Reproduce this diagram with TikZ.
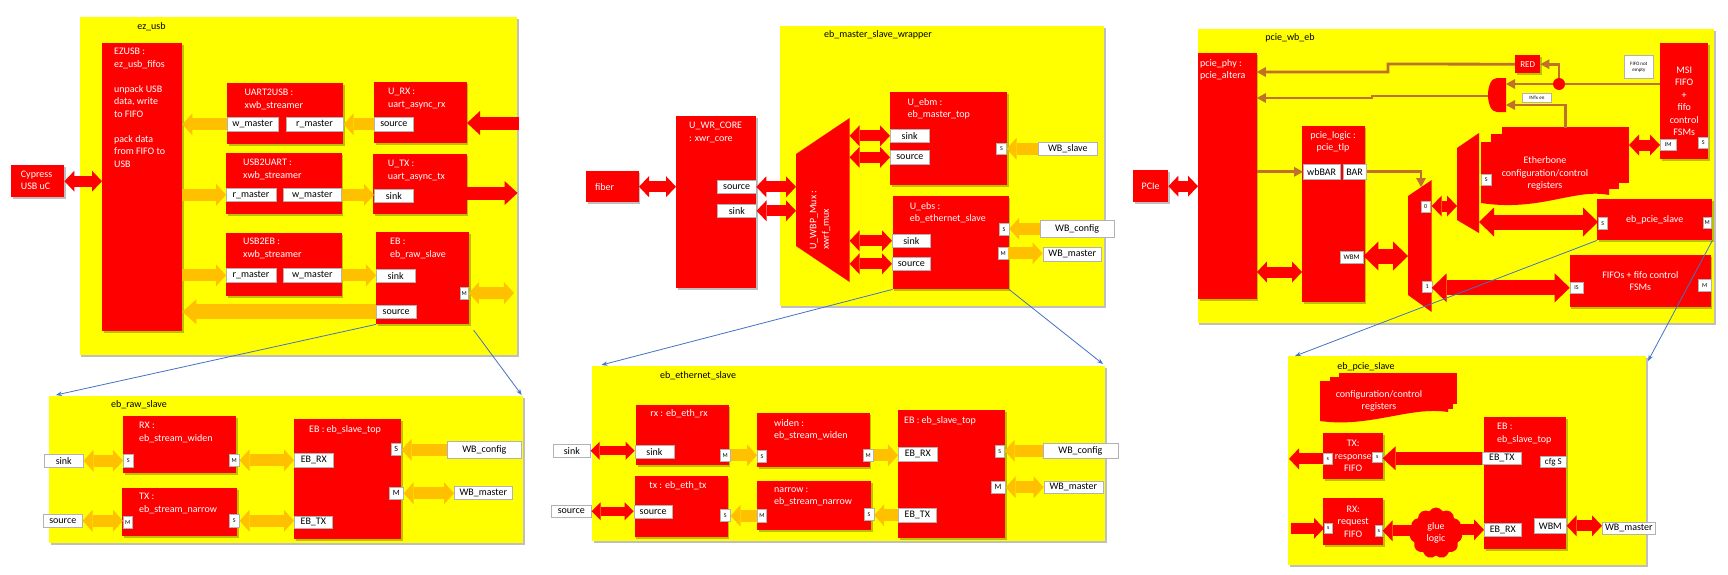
\documentclass[tikz,border=0pt]{standalone}
\usepackage{fontspec}
\setmainfont{Carlito}
\usetikzlibrary{arrows.meta,shapes.symbols,shadows}
\definecolor{yel}{HTML}{FFFF00}
\definecolor{rd}{HTML}{FF0000}
\definecolor{org}{HTML}{FFC000}
\definecolor{brn}{RGB}{192,112,40}
\definecolor{blu}{HTML}{4472C4}
\newcommand\fs[2]{\fontsize{#1}{#2}\selectfont}
\newcommand\mk[7]{\node[#1,anchor=north west,minimum width={(#5)-(#3)},minimum height={(#6)-(#4)}] (#2) at (#3,#4) {#7};}
\tikzset{
 shd/.style={drop shadow={shadow xshift=1.5pt,shadow yshift=-1.5pt,opacity=0.25,fill=black}},
 cont/.style={fill=yel,draw=none,inner sep=0pt,shd},
 blk/.style={fill=rd,draw=none,inner sep=0pt,text=white,font=\fs{10}{12.4},shd},
 port/.style={fill=white,draw=black!30,line width=0.6pt,inner sep=0pt,text=black,font=\fs{10}{12}},
 sport/.style={port,font=\fs{6}{7}},
 mport/.style={port,font=\fs{8}{9}},
 tport/.style={port,font=\fs{5}{6},align=center},
 wt/.style={text=white,font=\fs{10}{12.5},align=left,inner sep=0pt,anchor=north west},
 wtc/.style={text=white,font=\fs{10}{12.5},align=center,inner sep=0pt},
 bt/.style={text=black,font=\fs{10}{12},inner sep=0pt},
 oA/.style={draw=org,line width=12pt,-{Triangle[width=22pt,length=10pt,line width=0pt]}},
 oD/.style={draw=org,line width=12pt,{Triangle[width=22pt,length=10pt,line width=0pt]}-{Triangle[width=22pt,length=10pt,line width=0pt]}},
 oB/.style={draw=org,line width=15pt,-{Triangle[width=25pt,length=14pt,line width=0pt]}},
 rA/.style={draw=rd,line width=11pt,-{Triangle[width=21pt,length=10pt,line width=0pt]}},
 rD/.style={draw=rd,line width=11pt,{Triangle[width=21pt,length=10pt,line width=0pt]}-{Triangle[width=21pt,length=10pt,line width=0pt]}},
 rS/.style={draw=rd,line width=9pt,{Triangle[width=18pt,length=9pt,line width=0pt]}-{Triangle[width=18pt,length=9pt,line width=0pt]}},
 rM/.style={draw=rd,line width=13pt,-{Triangle[width=24pt,length=13pt,line width=0pt]}},
 rB/.style={draw=rd,line width=15pt,{Triangle[width=29pt,length=15pt,line width=0pt]}-{Triangle[width=29pt,length=15pt,line width=0pt]}},
 br/.style={draw=brn,line width=2.8pt},
 brA/.style={br,-{Triangle[width=10pt,length=9pt,line width=0pt]}},
 bl/.style={draw=blu,line width=0.8pt,-{Stealth[length=6pt,width=4.5pt]}},
}
\begin{document}
\begin{tikzpicture}[x=1pt,y=-1pt]
\useasboundingbox (0,0) rectangle (1728,574);
\fill[white] (0,0) rectangle (1728,574);

% ================= ez_usb
\mk{cont}{ezusb}{79.5}{17}{517}{355}{}
\node[bt] (lezusb) at (151.5,27) {ez\_usb};
\mk{blk}{EZ}{102}{43}{182}{331}{}
\node[wt] (tEZ) at (114,48) {EZUSB :\\ez\_usb\_fifos\\[12.5pt]unpack USB\\data, write\\to FIFO\\[12.5pt]pack data\\from FIFO to\\USB};
\mk{blk}{cyp}{11}{165}{64}{197}{}
\node[wt] (tcyp) at (20.7,170.5) {Cypress\\USB uC};
\mk{blk}{uu}{227}{83}{343}{144}{}
\node[wt] (tuu) at (244.5,89) {UART2USB :\\xwb\_streamer};
\mk{port}{uuw}{227.3}{117}{277.5}{131}{w\_master}
\mk{port}{uur}{285.5}{117}{343}{131}{r\_master}
\mk{blk}{urx}{374}{82}{466.6}{143}{}
\node[wt] (turx) at (388,88) {U\_RX :\\uart\_async\_rx};
\mk{port}{urxs}{374}{117}{413}{131}{source}
\mk{blk}{ua}{226}{153}{341.6}{214}{}
\node[wt] (tua) at (243,159) {USB2UART :\\xwb\_streamer};
\mk{port}{uar}{226}{188}{275.5}{201}{r\_master}
\mk{port}{uaw}{283}{188}{341}{201}{w\_master}
\mk{blk}{utx}{373}{154}{466.6}{214}{}
\node[wt] (tutx) at (387.7,160) {U\_TX :\\uart\_async\_tx};
\mk{port}{utxs}{374}{189}{413}{202}{sink}
\mk{blk}{ue}{226}{233}{341.6}{296}{}
\node[wt] (tue) at (243,238) {USB2EB :\\xwb\_streamer};
\mk{port}{uer}{226}{268}{275.5}{282}{r\_master}
\mk{port}{uew}{283}{268}{341}{282}{w\_master}
\mk{blk}{ebr}{376}{232}{469}{324}{}
\node[wt] (tebr) at (390,238) {EB :\\eb\_raw\_slave};
\mk{port}{ebrk}{376}{269}{414.6}{282}{sink}
\mk{sport}{ebrM}{459.7}{287}{468.3}{299}{M}
\mk{port}{ebrs}{376}{305}{415.6}{318}{source}
\coordinate (rxin) at (519,123);
\coordinate (txout) at (517.6,193);
\coordinate (ebrMo) at (514,293);
\draw[rD] (cyp.east) -- (cyp.east -| EZ.west);
\draw[rM] (rxin) -- (rxin -| urx.east);
\draw[oA] (urxs.west) -- (urxs.west -| uur.east);
\draw[oA] (uuw.west) -- (uuw.west -| EZ.east);
\draw[oA] (uar.west -| EZ.east) -- (uar.west);
\draw[oA] (uaw.east) -- (uaw.east -| utxs.west);
\draw[rM] (utx.east |- txout) -- (txout);
\draw[oA] (uer.west -| EZ.east) -- (uer.west);
\draw[oA] (uew.east) -- (uew.east -| ebrk.west);
\draw[oD] (ebrM.east) -- (ebrMo);
\draw[oB] (ebrs.west) -- (ebrs.west -| EZ.east);

% ================= eb_master_slave_wrapper
\mk{cont}{wrap}{779.6}{26}{1104}{306}{}
\node[bt] (lwrap) at (878,35) {eb\_master\_slave\_wrapper};
\mk{blk}{fib}{586}{171}{638.6}{202}{}
\node[wt,anchor=west] (tfib) at (595,187) {fiber};
\mk{blk}{wrc}{676}{116}{756}{288}{}
\node[wt] (twrc) at (689,122) {U\_WR\_CORE\\: xwr\_core};
\mk{port}{wrcs}{717}{180}{755.7}{193}{source}
\mk{port}{wrck}{717}{204}{756}{217}{sink}
\fill[rd] (796,154) -- (849.6,118) -- (849.6,282) -- (796,246) -- cycle;
\coordinate (m1L) at (796,200);
\coordinate (m1R) at (849.6,200);
\node[wt,anchor=center,rotate=90] (tm1) at (820,220) {U\_WBP\_Mux :\\xwrf\_mux};
\mk{blk}{ebm}{890}{92}{1006.8}{185}{}
\node[wt] (tebm) at (907.5,98) {U\_ebm :\\eb\_master\_top};
\mk{port}{ebmk}{890}{129}{928.6}{142}{sink}
\mk{port}{ebms}{890}{150}{929}{164}{source}
\mk{sport}{ebmS}{996.4}{143}{1006}{154}{S}
\mk{port}{wbsl}{1038}{142}{1097}{155}{WB\_slave}
\mk{blk}{ebs}{892.5}{196}{1008.6}{289}{}
\node[wt] (tebs) at (909.6,202) {U\_ebs :\\eb\_ethernet\_slave};
\mk{port}{ebsk}{892}{234}{930}{247}{sink}
\mk{port}{ebss}{892}{257}{930}{270}{source}
\mk{sport}{ebsS}{999}{223}{1008.6}{235}{S}
\mk{sport}{ebsM}{998}{247}{1007.5}{259}{M}
\mk{port}{wbcf}{1039.6}{220}{1114}{237}{WB\_config}
\mk{port}{wbma}{1042.5}{247}{1101.4}{261}{WB\_master}
\draw[rD] (fib.east) -- (fib.east -| wrc.west);
\draw[rD] (wrcs.east) -- (wrcs.east -| m1L);
\draw[rD] (wrck.east) -- (wrck.east -| m1L);
\draw[rD] (m1R |- ebmk.west) -- (ebmk.west);
\draw[rD] (m1R |- ebms.west) -- (ebms.west);
\draw[rD] (m1R |- ebsk.west) -- (ebsk.west);
\draw[rD] (m1R |- ebss.west) -- (ebss.west);
\draw[oA] (wbsl.west) -- (wbsl.west -| ebmS.east);
\draw[oA] (wbcf.west) -- (wbcf.west -| ebsS.east);
\draw[oA] (ebsM.east) -- (ebsM.east -| wbma.west);

% ================= pcie_wb_eb
\mk{cont}{pwe}{1197.5}{29}{1714}{323}{}
\node[bt] (lpwe) at (1290,38) {pcie\_wb\_eb};
\mk{blk}{pcie}{1133}{170}{1168}{202}{PCIe}
\mk{blk}{phy}{1198}{53}{1256.5}{299}{}
\node[wt] (tphy) at (1200,59) {pcie\_phy :\\pcie\_altera};
\mk{blk}{plog}{1302}{126}{1364.5}{302}{}
\node[wtc] (tplog) at (1333,142) {pcie\_logic :\\pcie\_tlp};
\mk{port}{wbbar}{1303}{164}{1339.7}{179}{wbBAR}
\mk{port}{bar}{1342.5}{164}{1366}{179}{BAR}
\mk{port,font=\fs{7}{8}}{wbm}{1340}{251}{1362.8}{263}{WBM}
\fill[rd] (1408,196) -- (1431.7,180) -- (1431.7,312) -- (1408,295) -- cycle;
\mk{sport}{mz}{1420.5}{201}{1430}{212}{0}
\mk{sport}{mo}{1422}{281}{1431.7}{292}{1}
\coordinate (m2L) at (1408,256);
\coordinate (m2R) at (1431.7,206);
\coordinate (m2T) at (1421,187);
\fill[rd] (1457,148) -- (1479,133) -- (1479,233) -- (1457,220) -- cycle;
\coordinate (m3L) at (1457,206);
\coordinate (m3R) at (1479,222);
% Etherbone registers (stacked documents)
\fill[rd] (1502,127) rectangle (1629,183);
\fill[rd] (1491,134) rectangle (1619,189);
\fill[rd] (1481,142) -- (1609,142) -- (1609,195) .. controls (1575,188) and (1540,212) .. (1481,203) -- cycle;
\node[wtc] (tebc) at (1545,173.5) {Etherbone\\configuration/control\\registers};
\mk{sport}{ebcS}{1481}{174}{1491}{185}{S}
\coordinate (ebcR) at (1629,145);
\coordinate (ebcT) at (1565.5,128);
\mk{blk,align=center}{msi}{1660}{43}{1708}{159}{MSI\\FIFO\\+\\fifo\\control\\FSMs}
\mk{sport}{msiIM}{1660}{139}{1675.6}{150}{IM}
\mk{sport}{msiS}{1698}{137}{1708}{148}{S}
\mk{tport}{fne}{1624}{55}{1653}{78}{FIFO not\\empty}
\mk{blk,font=\fs{9}{10}}{redb}{1515}{55}{1540}{73}{RED}
\mk{tport}{intx}{1522}{93}{1551}{102}{INTx en}
\fill[rd] (1506,78) -- (1497,78) .. controls (1485,78) and (1485,112) .. (1497,112) -- (1506,112) -- cycle;
\coordinate (andR1) at (1506,84);
\coordinate (andR2) at (1506,105);
\coordinate (andL) at (1488,96);
\coordinate (dotC) at (1559,84);
\mk{blk}{eps}{1597}{199}{1712}{240}{eb\_pcie\_slave}
\mk{sport}{epsS}{1598}{217}{1607}{229}{S}
\mk{sport}{epsM}{1702.5}{217}{1711}{228}{M}
\mk{blk,align=center}{fif}{1569.7}{255}{1710.6}{307}{FIFOs + fifo control\\FSMs}
\mk{sport}{fifIS}{1569.7}{282}{1582.6}{293}{IS}
\mk{sport}{fifM}{1698}{279}{1710.6}{291}{M}
\draw[rD] (pcie.east) -- (pcie.east -| phy.west);
\draw[rD] (phy.east |- 0,272) -- (plog.west |- 0,272);
\draw[brA] (phy.east |- wbbar.west) -- (wbbar.west);
\draw[brA] (bar.east) -- (bar.east -| m2T) -- (m2T);
\draw[rB] (wbm.east |- m2L) -- (m2L);
\draw[rD] (m2R) -- (m3L);
\draw[rB] (m3R) -- (m3R -| epsS.west);
\draw[rB] (m2R |- fifIS.west) -- (fifIS.west);
\draw[rD] (ebcR) -- (ebcR -| msiIM.west);
\draw[br] (msi.west |- dotC) -- (dotC);
\draw[brA] (dotC) -- (andR1);
\draw[brA] (dotC) -- (dotC |- redb.east) -- (redb.east);
\draw[brA] (redb.west) -- (1388,64) -- (1388,72) -- (phy.east |- 0,72);
\draw[brA] (andL) -- (1372,96) -- (1372,98) -- (phy.east |- 0,98);
\draw[brA] (ebcT) -- (ebcT |- andR2) -- (andR2);
\node[circle,fill=rd,minimum size=12pt,inner sep=0pt] (dot) at (dotC) {};

% ================= eb_raw_slave
\mk{cont}{raw}{49}{396}{523}{543}{}
\node[bt] (lraw) at (139,405) {eb\_raw\_slave};
\mk{blk}{rrx}{123}{416}{236}{473}{}
\node[wt] (trrx) at (139,422) {RX :\\eb\_stream\_widen};
\mk{sport}{rrxS}{123}{454}{133}{467}{S}
\mk{sport}{rrxM}{229}{454}{239}{466}{M}
\mk{port}{rsink}{44}{454}{83}{467}{sink}
\mk{blk}{rtx}{122}{488}{237}{536}{}
\node[wt] (trtx) at (139,493) {TX :\\eb\_stream\_narrow};
\mk{sport}{rtxM}{123}{516}{132}{528}{M}
\mk{sport}{rtxS}{229}{514}{239}{527}{S}
\mk{port}{rsrc}{43}{514}{82}{527}{source}
\mk{blk}{reb}{294}{419}{401}{539}{}
\node[wt] (treb) at (309,425) {EB : eb\_slave\_top};
\mk{port}{rebRX}{294}{453}{333}{467}{EB\_RX}
\mk{port}{rebTX}{294}{516}{332}{528}{EB\_TX}
\mk{mport}{rebS}{391}{443}{401}{455}{S}
\mk{mport}{rebM}{389}{487}{403}{499}{M}
\mk{port}{rwbc}{447}{441}{521}{458}{WB\_config}
\mk{port}{rwbm}{454}{486}{512}{499}{WB\_master}
\draw[oD] (rsink.east) -- (rsink.east -| rrxS.west);
\draw[oD] (rrxM.east) -- (rrxM.east -| rebRX.west);
\draw[oD] (rsrc.east) -- (rsrc.east -| rtxM.west);
\draw[oD] (rtxS.east) -- (rtxS.east -| rebTX.west);
\draw[oA] (rwbc.west) -- (rwbc.west -| rebS.east);
\draw[oD] (rebM.east) -- (rebM.east -| rwbm.west);

% ================= eb_ethernet_slave
\mk{cont}{eth}{591.8}{366}{1105}{541}{}
\node[bt] (leth) at (698,376) {eb\_ethernet\_slave};
\mk{blk}{erx}{636}{405}{728.6}{465}{}
\node[wtc] (terx) at (679,414) {rx : eb\_eth\_rx};
\mk{port}{erxk}{634.6}{445}{673.6}{458}{sink}
\mk{sport}{erxM}{720}{449}{730}{461}{M}
\mk{port}{exsk}{553}{444}{590}{457}{sink}
\mk{port}{exsr}{551}{505}{591}{517}{source}
\mk{blk}{etx}{634.6}{476}{727.5}{537}{}
\node[wtc] (tetx) at (678,486) {tx : eb\_eth\_tx};
\mk{port}{etxs}{633.6}{505}{672}{518}{source}
\mk{sport}{etxS}{720}{509}{730}{521}{S}
\mk{blk}{ewd}{757}{413}{869.6}{467}{}
\node[wt] (tewd) at (774,419) {widen :\\eb\_stream\_widen};
\mk{sport}{ewdS}{757}{450}{766.4}{462}{S}
\mk{sport}{ewdM}{863}{449}{873}{461}{M}
\mk{blk}{enr}{757}{481}{871}{530}{}
\node[wt] (tenr) at (774,487) {narrow :\\eb\_stream\_narrow};
\mk{sport}{enrM}{757}{509}{766.4}{522}{M}
\mk{sport}{enrS}{864}{508}{873.6}{520}{S}
\mk{blk}{eeb}{898}{410}{1005}{538}{}
\node[wt] (teeb) at (904,416) {EB : eb\_slave\_top};
\mk{port}{eebRX}{898}{447}{937}{461}{EB\_RX}
\mk{port}{eebTX}{898}{508}{936}{522}{EB\_TX}
\mk{sport}{eebS}{995}{445}{1004}{457}{S}
\mk{mport}{eebM}{990.7}{481}{1005}{493}{M}
\mk{port}{ewbc}{1042.5}{443}{1117.5}{458}{WB\_config}
\mk{port}{ewbm}{1043.6}{481}{1102.5}{493}{WB\_master}
\draw[rS] (exsk.east) -- (exsk.east -| erxk.west);
\draw[rS] (exsr.east) -- (exsr.east -| etxs.west);
\draw[oA] (erxM.east) -- (erxM.east -| ewdS.west);
\draw[oA] (ewdM.east) -- (ewdM.east -| eebRX.west);
\draw[oA] (eebTX.west) -- (eebTX.west -| enrS.east);
\draw[oA] (enrM.west) -- (enrM.west -| etxS.east);
\draw[oA] (ewbc.west) -- (ewbc.west -| eebS.east);
\draw[oD] (eebM.east) -- (eebM.east -| ewbm.west);

% ================= eb_pcie_slave detail
\mk{cont}{pd}{1288}{356}{1646}{565}{}
\node[bt] (lpd) at (1366,367) {eb\_pcie\_slave};
\fill[rd] (1339,373) rectangle (1457,404);
\fill[rd] (1330,377) rectangle (1453,409);
\fill[rd] (1320,381) -- (1448,381) -- (1448,412) .. controls (1410,406) and (1370,428) .. (1320,421) -- cycle;
\node[wtc] (tcfg) at (1379,401) {configuration/control\\registers};
\mk{blk,align=center}{ptx}{1323}{433}{1383}{479}{TX:\\response\\FIFO}
\mk{sport}{ptxL}{1323}{453}{1332}{464}{s}
\mk{sport}{ptxR}{1372}{452}{1382}{462}{s}
\mk{blk,align=center}{prx}{1323}{498}{1383}{545}{RX:\\request\\FIFO}
\mk{sport}{prxL}{1324}{523}{1332}{533}{s}
\mk{sport}{prxR}{1375}{525}{1382}{536}{s}
\mk{blk}{peb}{1484}{417}{1566}{549}{}
\node[wt] (tpeb) at (1497,423) {EB :\\eb\_slave\_top};
\mk{port}{pebTX}{1482}{452}{1521}{464}{EB\_TX}
\mk{port,font=\fs{9}{10}}{pebcfg}{1540}{456}{1566}{467}{cfg S}
\mk{port}{pebRX}{1484}{523}{1521}{536}{EB\_RX}
\mk{port}{pebW}{1534}{518}{1566}{533}{WBM}
\mk{port}{pwbm}{1602}{522}{1655}{534}{WB\_master}
\coordinate (txo) at (1289,458);
\coordinate (rxi) at (1291,528);
\coordinate (glueC) at (1436,533);
\draw[rA] (ptxL.west) -- (ptxL.west -| txo);
\draw[rM] (pebTX.west) -- (pebTX.west -| ptxR.east);
\draw[rA] (prxL.west -| rxi) -- (prxL.west);
\draw[rA] (glueC |- prxR.east) -- (prxR.east);
\draw[rA] (glueC |- pebRX.west) -- (pebRX.west);
\node[cloud,cloud puffs=11,cloud puff arc=120,aspect=1.05,fill=rd,minimum width=53pt,minimum height=51pt,inner sep=0pt,text=white,align=center,font=\fs{10}{12.5}] (glue) at (glueC) {glue\\logic};
\draw[rD] (pebW.east) -- (pebW.east -| pwbm.west);

% ================= zoom connectors
\coordinate (rawTL) at (56,395);
\coordinate (rawTR) at (521.7,395);
\coordinate (ethTL) at (601.4,365);
\coordinate (ethTR) at (1103,364);
\coordinate (pdTL) at (1295,356);
\coordinate (pdTR) at (1648,361);
\draw[bl] (ebr.south west) -- (rawTL);
\draw[bl,shorten <=7pt] (ebr.south east) -- (rawTR);
\draw[bl] (ebs.south west) -- (ethTL);
\draw[bl] (ebs.south east) -- (ethTR);
\draw[bl] (eps.south west) -- (pdTL);
\draw[bl] (eps.south east) -- (pdTR);
\end{tikzpicture}
\end{document}
